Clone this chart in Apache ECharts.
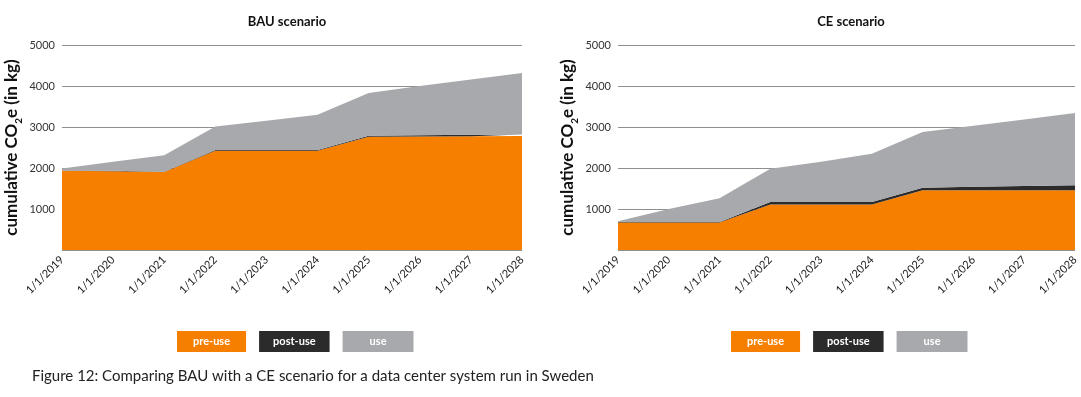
<!DOCTYPE html>
<html>
<head>
<meta charset="utf-8">
<script src="https://cdn.jsdelivr.net/npm/echarts@6/dist/echarts.min.js"></script>
<style>
  html, body { margin: 0; padding: 0; background: #fff; }
  #chart { width: 1081px; height: 397px; }
</style>
</head>
<body>
<div id="chart"></div>
<script>
var dates = ['1/1/2019', '1/1/2020', '1/1/2021', '1/1/2022', '1/1/2023', '1/1/2024', '1/1/2025', '1/1/2026', '1/1/2027', '1/1/2028']
var yTicks = [0, 1000, 2000, 3000, 4000, 5000]

// BAU scenario (kg CO2e, stacked)
var bauPreUse = [1930, 1920, 1900, 2420, 2420, 2420, 2760, 2770, 2775, 2780]
var bauPostUse = [10, 10, 10, 20, 20, 20, 25, 30, 35, 40]
var bauUse = [50, 220, 400, 570, 710, 860, 1045, 1200, 1350, 1500]

// CE scenario
var cePreUse = [670, 670, 670, 1110, 1110, 1110, 1460, 1460, 1460, 1460]
var cePostUse = [10, 10, 10, 60, 60, 60, 60, 80, 100, 120]
var ceUse = [20, 320, 580, 810, 980, 1180, 1360, 1490, 1620, 1760]

var colors = { pre: '#F77F00', post: '#2B2B2B', use: '#A7A9AC' }
var font = 'Lato, "Noto Sans", sans-serif'

var myChart = echarts.init(document.getElementById('chart'), null, { renderer: 'canvas' })

function xAxis(idx) {
  return {
    type: 'category',
    gridIndex: idx,
    data: dates,
    boundaryGap: false,
    axisLine: { show: false },
    axisTick: { show: false },
    axisLabel: { rotate: 45, fontSize: 11, color: '#222', fontFamily: font, margin: 8, interval: 0 }
  }
}

function yAxis(idx) {
  return {
    type: 'value',
    gridIndex: idx,
    min: yTicks[0],
    max: yTicks[yTicks.length - 1],
    interval: 1000,
    name: '{a|cumulative CO}{s|2}{a|e (in kg)}',
    nameLocation: 'middle',
    nameGap: 38,
    nameTextStyle: {
      rich: {
        a: { fontSize: 17, fontWeight: 'bold', color: '#111', fontFamily: font, lineHeight: 24 },
        s: { fontSize: 10, fontWeight: 'bold', color: '#111', fontFamily: font, lineHeight: 24, verticalAlign: 'bottom' }
      }
    },
    axisLine: { show: false },
    axisTick: { show: false },
    axisLabel: {
      fontSize: 11, color: '#333', fontFamily: font, margin: 7,
      formatter: function (v) { return v === 0 ? '' : v }
    },
    splitLine: { lineStyle: { color: '#8f8f8f', width: 1 } }
  }
}

function areaSeries(name, data, idx, color) {
  return {
    name: name,
    type: 'line',
    xAxisIndex: idx,
    yAxisIndex: idx,
    stack: 'total' + idx,
    data: data,
    showSymbol: false,
    symbol: 'none',
    lineStyle: { width: 0 },
    areaStyle: { color: color, opacity: 1 },
    itemStyle: { color: color },
    emphasis: { disabled: true },
    z: 2
  }
}

function legendItem(name, bg, padX) {
  return {
    name: name,
    textStyle: {
      backgroundColor: bg, color: '#fff', fontWeight: 'bold', fontSize: 11,
      fontFamily: font, padding: [5, padX, 5, padX], lineHeight: 11
    }
  }
}

function legend(x) {
  return {
    left: x - 5,
    top: 331,
    padding: 0,
    icon: 'none',
    itemWidth: 0,
    itemHeight: 0,
    itemGap: 8,
    selectedMode: false,
    data: [legendItem('pre-use', colors.pre, 16), legendItem('post-use', colors.post, 14), legendItem('use', colors.use, 27)]
  }
}

var option = {
  animation: false,
  title: [
    { text: 'BAU scenario', left: 282, top: 10, textAlign: 'center',
      textStyle: { fontSize: 13, fontWeight: 'bold', color: '#111', fontFamily: font } },
    { text: 'CE scenario', left: 846, top: 10, textAlign: 'center',
      textStyle: { fontSize: 13, fontWeight: 'bold', color: '#111', fontFamily: font } }
  ],
  grid: [
    { left: 62, right: 559, top: 45, bottom: 147 },
    { left: 618, right: 4, top: 45, bottom: 147 }
  ],
  legend: [legend(177), legend(731)],
  xAxis: [xAxis(0), xAxis(1)],
  yAxis: [yAxis(0), yAxis(1)],
  series: [
    areaSeries('pre-use', bauPreUse, 0, colors.pre),
    areaSeries('post-use', bauPostUse, 0, colors.post),
    areaSeries('use', bauUse, 0, colors.use),
    areaSeries('pre-use', cePreUse, 1, colors.pre),
    areaSeries('post-use', cePostUse, 1, colors.post),
    areaSeries('use', ceUse, 1, colors.use)
  ],
  graphic: [
    {
      type: 'text', left: 32, top: 369,
      style: {
        text: 'Figure 12: Comparing BAU with a CE scenario for a data center system run in Sweden',
        fontSize: 15, fill: '#222', fontFamily: font
      }
    }
  ]
}
myChart.setOption(option)
</script>
</body>
</html>
